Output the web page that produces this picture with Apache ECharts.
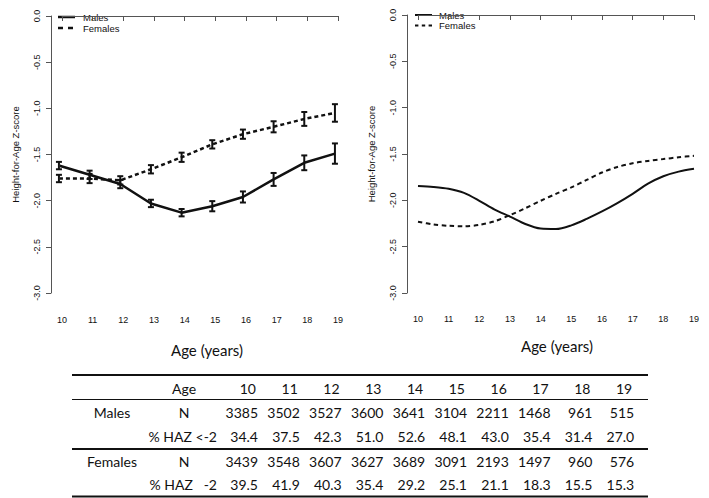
<!DOCTYPE html>
<html>
<head>
<meta charset="utf-8">
<script src="https://cdn.jsdelivr.net/npm/echarts@6/dist/echarts.min.js"></script>
<style>
html,body{margin:0;padding:0;background:#fff;}
#chart{width:709px;height:498px;}
</style>
</head>
<body>
<div id="chart"></div>
<script>
// ---- Left panel: observed means with 95% CI ----
const leftAges = [9.9, 10.9, 11.9, 12.9, 13.9, 14.9, 15.9, 16.9, 17.9, 18.9];
const maleMean = [-1.62, -1.72, -1.82, -2.03, -2.13, -2.06, -1.96, -1.77, -1.59, -1.49];
const maleLow  = [-1.66, -1.765, -1.865, -2.07, -2.17, -2.115, -2.02, -1.84, -1.67, -1.60];
const maleHigh = [-1.58, -1.675, -1.775, -1.99, -2.09, -2.005, -1.90, -1.70, -1.51, -1.38];
const femaleMean = [-1.76, -1.76, -1.78, -1.66, -1.53, -1.39, -1.28, -1.20, -1.115, -1.05];
const femaleLow  = [-1.80, -1.81, -1.825, -1.705, -1.58, -1.435, -1.33, -1.26, -1.19, -1.145];
const femaleHigh = [-1.72, -1.71, -1.735, -1.615, -1.48, -1.345, -1.23, -1.14, -1.04, -0.955];

// ---- Right panel: smoothed curves ----
const smoothAges = [10, 10.5, 11, 11.5, 12, 12.5, 13, 13.5, 14, 14.5, 15, 15.5, 16, 16.5, 17, 17.5, 18, 18.5, 19];
const maleSmooth = [-1.845, -1.855, -1.875, -1.92, -2.005, -2.10, -2.175, -2.255, -2.305, -2.31, -2.27, -2.20, -2.12, -2.03, -1.93, -1.82, -1.74, -1.69, -1.66];
const femaleSmooth = [-2.23, -2.26, -2.275, -2.28, -2.265, -2.225, -2.16, -2.085, -2.005, -1.93, -1.86, -1.78, -1.70, -1.64, -1.60, -1.575, -1.555, -1.535, -1.52];

// ---- Table ----
const tableAges = [10, 11, 12, 13, 14, 15, 16, 17, 18, 19];
const maleN = [3385, 3502, 3527, 3600, 3641, 3104, 2211, 1468, 961, 515];
const malePct = [34.4, 37.5, 42.3, 51.0, 52.6, 48.1, 43.0, 35.4, 31.4, 27.0];
const femaleN = [3439, 3548, 3607, 3627, 3689, 3091, 2193, 1497, 960, 576];
const femalePct = [39.5, 41.9, 40.3, 35.4, 29.2, 25.1, 21.1, 18.3, 15.5, 15.3];

const legendNames = ['Males', 'Females'];

const yTicks = { min: -3, max: 0, interval: 0.5 };
const xTicks = { min: 10, max: 19, interval: 1 };

const AX = '#555';
const TXT = '#111';
const FONT = 'Liberation Sans';

function errBar(params, api) {
  const x = api.value(0), lo = api.value(1), hi = api.value(2);
  const p1 = api.coord([x, lo]), p2 = api.coord([x, hi]);
  const w = 3;
  const st = { stroke: '#111', lineWidth: 2 };
  return { type: 'group', children: [
    { type: 'line', shape: { x1: p1[0], y1: p1[1], x2: p2[0], y2: p2[1] }, style: st },
    { type: 'line', shape: { x1: p1[0] - w, y1: p1[1], x2: p1[0] + w, y2: p1[1] }, style: st },
    { type: 'line', shape: { x1: p2[0] - w, y1: p2[1], x2: p2[0] + w, y2: p2[1] }, style: st }
  ]};
}

function mkY(idx, offset) {
  return {
    type: 'value', gridIndex: idx, min: yTicks.min, max: yTicks.max, interval: yTicks.interval,
    offset: offset,
    name: 'Height-for-Age Z-score', nameLocation: 'middle', nameGap: 31,
    nameTextStyle: { fontSize: 9.5, fontFamily: FONT, color: TXT },
    axisLine: { show: true, lineStyle: { color: AX, width: 1 } },
    axisTick: { show: true, length: 5, lineStyle: { color: AX } },
    axisLabel: { rotate: 90, margin: 10, fontSize: 9, fontFamily: FONT, color: TXT,
      formatter: v => v.toFixed(1) },
    splitLine: { show: false }
  };
}
function mkX(idx, offset) {
  return {
    type: 'value', gridIndex: idx, min: xTicks.min, max: xTicks.max, interval: xTicks.interval,
    offset: offset,
    axisLine: { show: true, lineStyle: { color: AX, width: 1 } },
    axisTick: { show: true, length: 5, lineStyle: { color: AX } },
    axisLabel: { margin: 9, fontSize: 9, fontFamily: FONT, color: TXT },
    splitLine: { show: false }
  };
}

const leftMale = leftAges.map((a, i) => [a, maleMean[i]]);
const leftFemale = leftAges.map((a, i) => [a, femaleMean[i]]);
const leftMaleErr = leftAges.map((a, i) => [a, maleLow[i], maleHigh[i]]);
const leftFemaleErr = leftAges.map((a, i) => [a, femaleLow[i], femaleHigh[i]]);
const rightMale = smoothAges.map((a, i) => [a, maleSmooth[i]]);
const rightFemale = smoothAges.map((a, i) => [a, femaleSmooth[i]]);

// ---- graphics: table, titles, legends ----
const TF = 'Lato';
const colRight = i => 258 + 41.8 * i;
const rowY = { head: 388, mN: 412.5, mP: 436.5, fN: 461.5, fP: 484.5 };
const els = [];
function txt(x, y, s, align, size, fam) {
  els.push({ type: 'text', x: x, y: y, silent: true,
    style: { text: s, fontSize: size || 14, fontFamily: fam || TF, fill: '#111',
      align: align, verticalAlign: 'middle', textAlign: align, textVerticalAlign: 'middle' } });
}
function seg(x1, y1, x2, y2, w, dash) {
  els.push({ type: 'line', silent: true, shape: { x1: x1, y1: y1, x2: x2, y2: y2 },
    style: { stroke: '#111', lineWidth: w, lineDash: dash || null } });
}
seg(72, 375, 648, 375, 2); seg(72, 399.5, 648, 399.5, 1); seg(72, 449, 648, 449, 2); seg(72, 496.5, 648, 496.5, 2);
txt(184, rowY.head, 'Age', 'center');
txt(112, rowY.mN, 'Males', 'center');
txt(184, rowY.mN, 'N', 'center');
txt(217, rowY.mP, '% HAZ <-2', 'right');
txt(112, rowY.fN, 'Females', 'center');
txt(184, rowY.fN, 'N', 'center');
txt(217, rowY.fP, '% HAZ   -2', 'right');
tableAges.forEach((a, i) => {
  txt(colRight(i) - 2, rowY.head, String(a), 'right');
  txt(colRight(i), rowY.mN, String(maleN[i]), 'right');
  txt(colRight(i), rowY.mP, malePct[i].toFixed(1), 'right');
  txt(colRight(i), rowY.fN, String(femaleN[i]), 'right');
  txt(colRight(i), rowY.fP, femalePct[i].toFixed(1), 'right');
});
txt(207, 350, 'Age (years)', 'center', 15);
txt(557, 346, 'Age (years)', 'center', 15);
// legends
seg(58, 17, 75, 17, 2.5); txt(83, 17, legendNames[0], 'left', 9.5, FONT);
seg(58, 28, 75, 28, 2.5, [5, 5]); txt(83, 28, legendNames[1], 'left', 9.5, FONT);
seg(415, 15, 432, 15, 2); txt(439, 15, legendNames[0], 'left', 9.5, FONT);
seg(415, 25.5, 432, 25.5, 2, [3.4, 3.4]); txt(439, 25.5, legendNames[1], 'left', 9.5, FONT);

const option = {
  animation: false,
  backgroundColor: '#fff',
  grid: [
    { left: 62, top: 16, width: 276, height: 277 },
    { left: 418, top: 15, width: 276, height: 278 }
  ],
  xAxis: [mkX(0, 13), mkX(1, 12)],
  yAxis: [mkY(0, 11), mkY(1, 11)],
  graphic: els,
  series: [
    { name: legendNames[0], type: 'line', xAxisIndex: 0, yAxisIndex: 0, data: leftMale, symbol: 'none',
      lineStyle: { color: '#111', width: 2.5 }, itemStyle: { color: '#111' } },
    { name: legendNames[1], type: 'line', xAxisIndex: 0, yAxisIndex: 0, data: leftFemale, symbol: 'none',
      lineStyle: { color: '#111', width: 2.5, type: [4, 3] }, itemStyle: { color: '#111' } },
    { name: 'maleCI', type: 'custom', xAxisIndex: 0, yAxisIndex: 0, data: leftMaleErr,
      renderItem: errBar, encode: { x: 0, y: [1, 2] } },
    { name: 'femaleCI', type: 'custom', xAxisIndex: 0, yAxisIndex: 0, data: leftFemaleErr,
      renderItem: errBar, encode: { x: 0, y: [1, 2] } },
    { name: legendNames[0], type: 'line', xAxisIndex: 1, yAxisIndex: 1, data: rightMale, symbol: 'none',
      smooth: 0.3, lineStyle: { color: '#111', width: 2 }, itemStyle: { color: '#111' } },
    { name: legendNames[1], type: 'line', xAxisIndex: 1, yAxisIndex: 1, data: rightFemale, symbol: 'none',
      smooth: 0.3, lineStyle: { color: '#111', width: 2, type: [4.5, 3.5] }, itemStyle: { color: '#111' } }
  ]
};

const chart = echarts.init(document.getElementById('chart'), null, { renderer: 'svg' });
chart.setOption(option);
</script>
</body>
</html>
